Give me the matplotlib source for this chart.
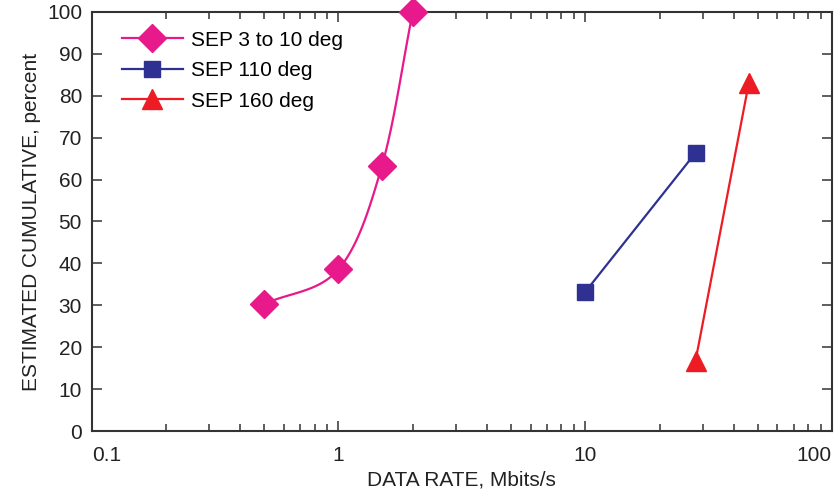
import numpy as np
import matplotlib
matplotlib.use("Agg")
import matplotlib.pyplot as plt
from matplotlib.ticker import FixedLocator, LogLocator, NullFormatter, FixedFormatter

plt.rcParams['font.family'] = ['Liberation Sans', 'DejaVu Sans']

sep_small_x = [0.5, 1.0, 1.5, 2.0]
sep_small_y = [30.3, 38.6, 63.3, 100.0]
sep110_x = [10.0, 28.0]
sep110_y = [33.2, 66.4]
sep160_x = [28.0, 46.0]
sep160_y = [16.8, 83.0]
x_ticks = [0.1, 1, 10, 100]
x_tick_labels = ["0.1", "1", "10", "100"]
y_ticks = list(range(0, 101, 10))

PINK = "#E8198B"
BLUE = "#2E3192"
RED = "#ED1C24"
FS = 15


def catmull_rom(xs, ys, n=40):
    """Smooth curve through the data points (in log-x space)."""
    lx = np.log10(np.asarray(xs, float))
    y = np.asarray(ys, float)
    P = np.column_stack([lx, y])
    P = np.vstack([2 * P[0] - P[1], P, 2 * P[-1] - P[-2]])
    out = []
    for i in range(1, len(P) - 2):
        p0, p1, p2, p3 = P[i - 1], P[i], P[i + 1], P[i + 2]
        t = np.linspace(0, 1, n, endpoint=(i == len(P) - 3))[:, None]
        seg = 0.5 * ((2 * p1) + (-p0 + p2) * t + (2 * p0 - 5 * p1 + 4 * p2 - p3) * t ** 2
                     + (-p0 + 3 * p1 - 3 * p2 + p3) * t ** 3)
        out.append(seg)
    out = np.vstack(out)
    return 10 ** out[:, 0], out[:, 1]


fig = plt.figure(figsize=(8.34, 4.98), dpi=100)
ax = fig.add_axes([0.110, 0.1345, 0.8876, 0.8415])

cx, cy = catmull_rom(sep_small_x, sep_small_y)
ax.plot(cx, cy, color=PINK, lw=1.6, zorder=2)
ax.plot(sep_small_x, sep_small_y, ls='none', marker='D', ms=14, color=PINK, zorder=3, clip_on=False)
ax.plot(sep110_x, sep110_y, color=BLUE, lw=1.6, marker='s', ms=12, zorder=3)
ax.plot(sep160_x, sep160_y, color=RED, lw=1.6, marker='^', ms=15, zorder=3)

h1, = ax.plot([], [], color=PINK, lw=1.6, marker='D', ms=14)
h2, = ax.plot([], [], color=BLUE, lw=1.6, marker='s', ms=12)
h3, = ax.plot([], [], color=RED, lw=1.6, marker='^', ms=15)
ax.legend([h1, h2, h3], ["SEP 3 to 10 deg", "SEP 110 deg", "SEP 160 deg"],
          loc='upper left', bbox_to_anchor=(0.03, 0.975), frameon=False,
          fontsize=FS, handlelength=2.9, handletextpad=0.4, labelspacing=0.55,
          borderaxespad=0.0)

ax.set_xscale('log')
ax.set_xlim(0.1, 100)
ax.set_ylim(0, 100)
ax.xaxis.set_major_locator(FixedLocator(x_ticks))
ax.xaxis.set_major_formatter(FixedFormatter(x_tick_labels))
ax.xaxis.set_minor_locator(LogLocator(base=10, subs=np.arange(2, 10)))
ax.xaxis.set_minor_formatter(NullFormatter())
ax.set_yticks(y_ticks)

ax.tick_params(which='both', direction='in', top=True, right=True, width=1.1, colors='#333333',
               labelcolor='#222222', labelsize=FS)
ax.tick_params(which='major', length=7)
ax.tick_params(axis='x', which='major', pad=11)
ax.tick_params(axis='y', which='major', pad=7)
ax.tick_params(which='minor', length=5)
for s in ax.spines.values():
    s.set_linewidth(1.5)
    s.set_color('#333333')

fig.canvas.draw()
xt = ax.get_xticklabels()
xt[0].set_horizontalalignment('left')
xt[-1].set_horizontalalignment('right')

ax.set_xlabel("DATA RATE, Mbits/s", fontsize=FS, color='#222222', labelpad=4)
ax.set_ylabel("ESTIMATED CUMULATIVE, percent", fontsize=FS, color='#222222', labelpad=4)

fig.savefig("out.png", dpi=100)
